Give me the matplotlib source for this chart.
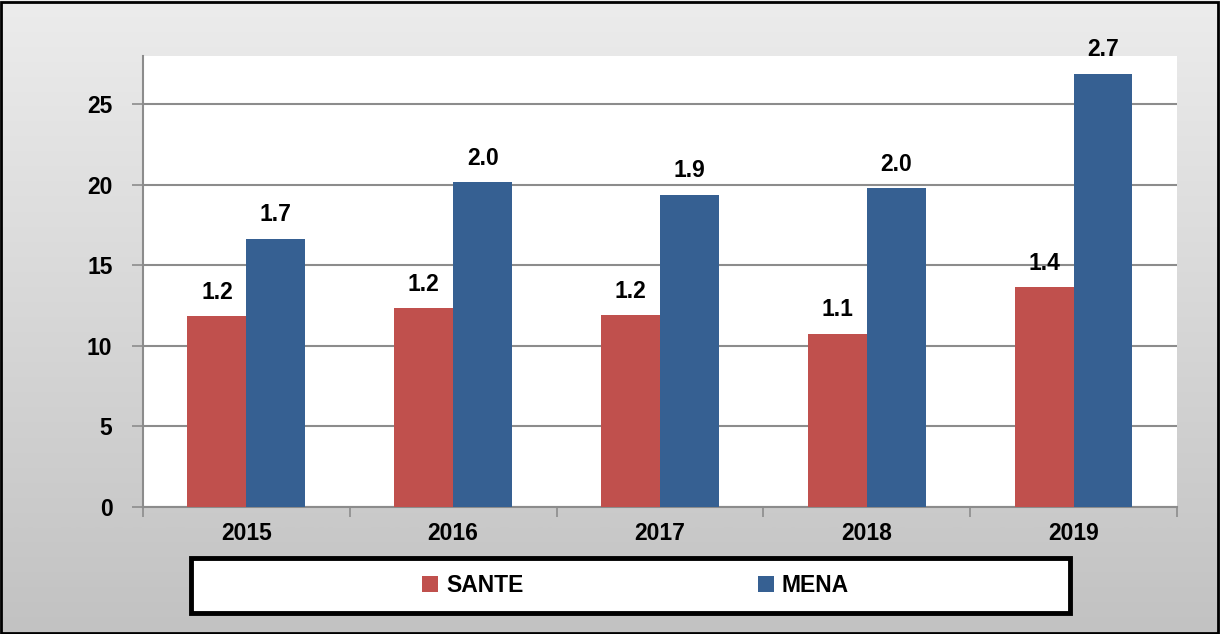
import numpy as np
import matplotlib
matplotlib.use("Agg")
import matplotlib.pyplot as plt
from matplotlib.patches import Rectangle

years = ["2015", "2016", "2017", "2018", "2019"]
sante = [11.85, 12.35, 11.9, 10.75, 13.65]
mena = [16.65, 20.15, 19.4, 19.8, 26.9]
sante_labels = ["1.2", "1.2", "1.2", "1.1", "1.4"]
mena_labels = ["1.7", "2.0", "1.9", "2.0", "2.7"]
yticks = [0, 5, 10, 15, 20, 25]

plt.rcParams['font.family'] = ['Liberation Sans', 'DejaVu Sans']
plt.rcParams['font.weight'] = 'bold'

red = '#C0504D'
blue = '#366092'
grid_col = '#8c8c8c'
fs = 16.5

fig = plt.figure(figsize=(12.2, 6.34), dpi=100)

# gradient background
bg = fig.add_axes([0, 0, 1, 1], zorder=-10)
grad = np.linspace(0, 1, 256).reshape(-1, 1)
cmap = matplotlib.colors.LinearSegmentedColormap.from_list('bg', ['#ececec', '#c2c2c2'])
bg.imshow(grad, aspect='auto', cmap=cmap, extent=[0, 1, 0, 1], origin='upper')
bg.set_axis_off()

ax = fig.add_axes([0.1172, 0.2003, 0.8475, 0.7114])
ax.set_facecolor('white')

x = np.arange(len(years))
w = 0.285
b1 = ax.bar(x - w / 2, sante, w, color=red, zorder=3)
b2 = ax.bar(x + w / 2, mena, w, color=blue, zorder=3)

for bars, labs in ((b1, sante_labels), (b2, mena_labels)):
    for rect, lab in zip(bars, labs):
        ax.annotate(lab, (rect.get_x() + rect.get_width() / 2, rect.get_height()),
                    xytext=(0, 9), textcoords='offset points',
                    ha='center', va='bottom', fontsize=fs, fontweight='bold',
                    annotation_clip=False)

ax.set_xlim(-0.5, len(years) - 0.5)
ax.set_ylim(0, 28)
ax.set_yticks(yticks)
ax.set_yticklabels([str(t) for t in yticks], fontsize=fs, fontweight='bold')
ax.yaxis.grid(True, color=grid_col, linewidth=1.5, zorder=0)
ax.set_axisbelow(True)

ax.set_xticks(np.arange(len(years) + 1) - 0.5)
ax.set_xticklabels([])
ax.set_xticks(x, minor=True)
ax.set_xticklabels(years, minor=True, fontsize=fs, fontweight='bold')
ax.tick_params(axis='x', which='minor', length=0, pad=11)
ax.tick_params(axis='x', which='major', length=7, width=1.2, color=grid_col)
ax.tick_params(axis='y', length=8, width=1.2, color=grid_col, pad=14)

for s in ('top', 'right'):
    ax.spines[s].set_visible(False)
for s in ('left', 'bottom'):
    ax.spines[s].set_color(grid_col)
    ax.spines[s].set_linewidth(1.5)

# legend box
fig.patches.append(Rectangle((0.1566, 0.0331), 0.7205, 0.0868, transform=fig.transFigure,
                             facecolor='white', edgecolor='black', linewidth=3.5, zorder=5))
leg = fig.legend([b1, b2], ["SANTE", "MENA"], loc='center', ncol=2,
                 bbox_to_anchor=(0.521, 0.0765), frameon=False,
                 prop={'size': fs, 'weight': 'bold'}, handlelength=0.7, handleheight=0.7,
                 handletextpad=0.35, columnspacing=10.2)
leg.set_zorder(6)

# outer border
fig.patches.append(Rectangle((0.001, 0.002), 0.997, 0.995, transform=fig.transFigure,
                             facecolor='none', edgecolor='black', linewidth=2, zorder=10))

fig.savefig('out.png', dpi=100)
